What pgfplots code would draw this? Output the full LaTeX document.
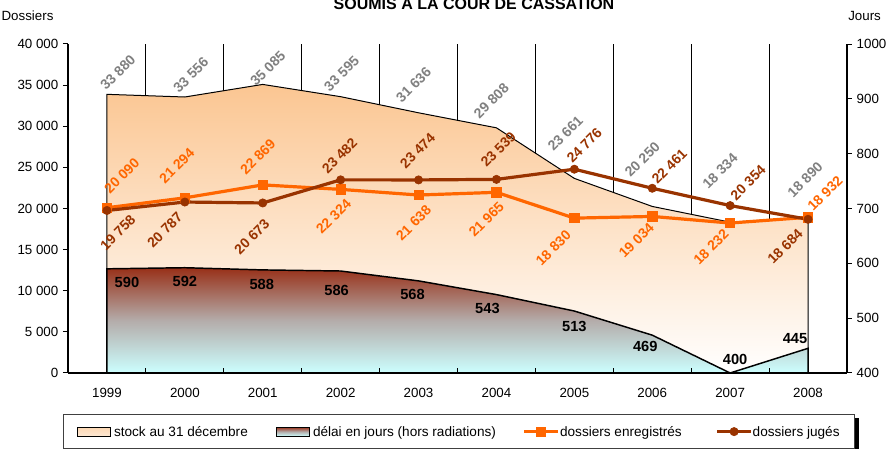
\documentclass[border=0pt]{standalone}
\usepackage{pgfplots}
\usepackage{pgfplotstable}
\pgfplotsset{compat=1.18}
\usepackage{fontspec}
\setmainfont{Liberation Sans}

\definecolor{orgline}{RGB}{255,102,0}
\definecolor{brnline}{RGB}{153,51,0}
\definecolor{lblgrey}{RGB}{128,128,128}
\definecolor{stocktop}{RGB}{251,198,146}
\definecolor{delaitop}{RGB}{152,48,24}
\definecolor{delaimid}{RGB}{180,172,170}
\definecolor{delaibot}{RGB}{204,255,255}

% stock au 31 decembre (dx, dy = label offset in px, dy up)
\pgfplotstableread{
x v dx dy
0 33880 11 22
1 33556 6 22
2 35085 5 16
3 33595 1 23
4 31636 -5 28
5 29808 -5 27
6 23661 -9 45
7 20250 -10 47
8 18334 -10 51
9 18890 -3 38
}\stocktab

% dossiers enregistres
\pgfplotstableread{
x v dx dy
0 20090 15 32
1 21294 -8 32
2 22869 -5 28
3 22324 -7 -27
4 21638 -5 -28
5 21965 -10 -27
6 18830 -21 -30
7 19034 -16 -24
8 18232 -19 -24
9 18932 17 24
}\enrtab

% dossiers juges
\pgfplotstableread{
x v dx dy
0 19758 11 -22
1 20787 -20 -28
2 20673 -11 -34
3 23482 -1 24
4 23474 -1 29
5 23539 2 30
6 24776 10 24
7 22461 17 22
8 20354 18 23
9 18684 -23 -27
}\jugtab

% delai en jours (hors radiations)
\pgfplotstableread{
x v dx dy
0 590 20 -14
1 592 0 -14
2 588 -1 -15
3 586 -4 -19
4 568 -6 -14
5 543 -9 -14
6 513 0 -15
7 469 -7 -11
8 400 5 14
9 445 -13 10
}\deltab

\pgfplotsset{
  arealeg/.style={legend image code/.code={\draw[##1] (0pt,-3.4pt) rectangle (24.75pt,3.4pt);}},
  lineleg/.style={legend image code/.code={\draw[mark repeat=2,mark phase=2,##1] plot coordinates {(0pt,0pt) (12.75pt,0pt) (25.5pt,0pt)};}},
  lbl/.style={nodes near coords, point meta=y,
     visualization depends on={\thisrow{dx} \as \dx},
     visualization depends on={\thisrow{dy} \as \dy},
     every node near coord/.append style={anchor=center, inner sep=0pt, xshift={\dx*0.75pt}, yshift={\dy*0.75pt}, rotate=#1}},
  numfmt/.style={/pgf/number format/fixed, /pgf/number format/precision=0, /pgf/number format/1000 sep={\ }, /pgf/number format/assume math mode=true},
  base/.style={at={(51pt,57pt)}, anchor=south west, scale only axis, width=584.25pt, height=246.75pt, xmin=-0.5, xmax=9.5, clip=false},
}

\begin{document}
\begin{tikzpicture}
% ---------- left axis: stock and lines ----------
\begin{axis}[base,
  ymin=0, ymax=40000,
  axis x line=none, axis y line*=left,
  axis line style={black, line width=0.9pt},
  ytick={0,5000,...,40000},
  scaled y ticks=false,
  tick align=outside, major tick length=3.75pt,
  every tick/.style={black, line width=0.75pt},
  numfmt,
]
\addplot[ycomb, black, line width=0.6pt, forget plot] coordinates {(0.5,40000) (1.5,40000) (2.5,40000) (3.5,40000) (4.5,40000) (5.5,40000) (6.5,40000) (7.5,40000) (8.5,40000)};
\addplot[draw=black, line width=0.75pt, top color=stocktop, bottom color=white, forget plot] table[x=x,y=v]{\stocktab} \closedcycle;
\addplot[draw=none, mark=none, forget plot, lbl=45, numfmt, every node near coord/.append style={text=lblgrey, font=\bfseries\fontsize{10.5}{12}\selectfont}] table[x=x,y=v]{\stocktab};
\addplot[orgline, line width=2.4pt, mark=square*, mark size=3.5pt, mark options={line width=0.5pt, solid}, forget plot, lbl=45, numfmt, every node near coord/.append style={text=orgline, font=\bfseries\fontsize{10.5}{12}\selectfont}] table[x=x,y=v]{\enrtab};
\addplot[brnline, line width=2.4pt, mark=*, mark size=3.1pt, mark options={line width=0.5pt, solid}, forget plot, lbl=45, numfmt, every node near coord/.append style={text=brnline, font=\bfseries\fontsize{10.5}{12}\selectfont}] table[x=x,y=v]{\jugtab};
\end{axis}
% ---------- right axis: delai ----------
\begin{axis}[base,
  ymin=400, ymax=1000,
  axis x line=none, axis y line*=right,
  axis line style={black, line width=0.9pt},
  ytick={400,500,...,1000},
  tick align=outside, major tick length=3.75pt,
  every tick/.style={black, line width=0.75pt},
  numfmt, /pgf/number format/1000 sep={},
]
\addplot[draw=black, line width=1.1pt, top color=delaitop, bottom color=delaibot, middle color=delaimid, forget plot] coordinates {(0,400) (0,590) (1,592) (2,588) (3,586) (4,568) (5,543) (6,513) (7,469) (8,400) (9,445) (9,400)} -- cycle;
\addplot[draw=none, mark=none, forget plot, lbl=0, numfmt, every node near coord/.append style={text=black, font=\bfseries\fontsize{11}{13}\selectfont}] table[x=x,y=v]{\deltab};
\end{axis}
% ---------- x axis and legend ----------
\begin{axis}[base,
  ymin=0, ymax=1,
  axis y line=none, axis x line*=bottom,
  axis line style={black, line width=1pt},
  xtick={0.5,1.5,...,8.5}, xticklabels={},
  tick align=inside, major tick length=3.75pt,
  every tick/.style={black, line width=0.75pt},
  extra x ticks={0,1,2,3,4,5,6,7,8,9},
  extra x tick labels={1999,2000,2001,2002,2003,2004,2005,2006,2007,2008},
  extra x tick style={major tick length=0pt, tick style={draw=none}, grid=none, xticklabel style={yshift=-7.9pt}},
  legend style={name=leg, at={(-0.00642,-0.12462)}, anchor=north west, legend columns=4,
    draw=black!75, line width=0.75pt, fill=white,
    inner xsep=10.5pt, inner ysep=7.9pt,
    font=\fontsize{10.2}{12}\selectfont,
    nodes={inner sep=0pt}, column sep=0pt},
  legend cell align=left,
]
\addplot[draw=none, mark=none, forget plot] coordinates {(0,0)};
\addlegendimage{arealeg, draw=black, line width=0.75pt, top color=stocktop!70, bottom color=stocktop!40}
\addlegendentry{\makebox[123.75pt][l]{\hspace{1.9pt}stock au 31 décembre}\strut}
\addlegendimage{arealeg, draw=black, line width=0.75pt, top color=delaitop, bottom color=delaibot, middle color=delaimid}
\addlegendentry{\makebox[159pt][l]{\hspace{1.9pt}délai en jours (hors radiations)}\strut}
\addlegendimage{lineleg, orgline, line width=2.4pt, mark=square*, mark size=3.5pt, mark options={line width=0.5pt, solid}}
\addlegendentry{\makebox[116.85pt][l]{\hspace{0.3pt}dossiers enregistrés}\strut}
\addlegendimage{lineleg, brnline, line width=2.4pt, mark=*, mark size=3.1pt, mark options={line width=0.5pt, solid}}
\addlegendentry{\makebox[65.5pt][l]{dossiers jugés}\strut}
\end{axis}
% legend shadow (right strip)
\fill[black] ([yshift=-3pt]leg.north east) rectangle ([xshift=3pt,yshift=-3pt]leg.south east);
% ---------- titles ----------
\node[font=\bfseries\fontsize{12}{14}\selectfont, anchor=base] at (355.5pt,329.6pt) {SOUMIS A LA COUR DE CASSATION};
\node[anchor=base west, inner sep=0pt] at (1pt,321pt) {Dossiers};
\node[anchor=base west, inner sep=0pt] at (636pt,321pt) {Jours};
\pgfresetboundingbox
\path[use as bounding box] (0pt,0pt) rectangle (667.5pt,336.75pt);
\end{tikzpicture}
\end{document}
